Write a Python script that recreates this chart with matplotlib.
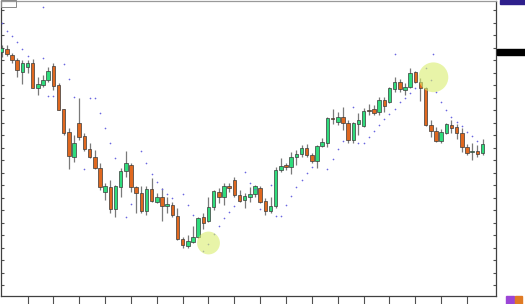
import matplotlib.pyplot as plt
import matplotlib.ticker as ticker
from matplotlib.patches import Rectangle
import numpy as np

# Candle data (one value per bar, price units)
opens = [248, 251, 245, 240, 228, 233, 237, 212, 215, 220,
         234, 215, 191, 168, 143, 177, 164, 151, 143, 132,
         108, 113, 91, 113, 129, 135, 113, 107, 89, 111,
         98, 103, 94, 95, 84, 61, 54, 58, 63, 83,
         79, 93, 108, 103, 114, 120, 105, 100, 103, 106,
         112, 99, 89, 94, 130, 135, 133, 143, 146, 152,
         145, 139, 154, 157, 182, 178, 183, 177, 160, 176,
         174, 190, 191, 188, 200, 198, 211, 218, 210, 213,
         228, 218, 212, 175, 169, 159, 167, 175, 173, 167,
         153, 148, 149, 147]
highs = [255, 255, 247, 242, 240, 240, 241, 223, 225, 233,
         237, 217, 191, 172, 165, 202, 167, 157, 150, 137,
         117, 120, 115, 132, 149, 137, 114, 114, 114, 122,
         107, 112, 103, 98, 92, 63, 65, 74, 83, 87,
         103, 110, 112, 117, 117, 123, 110, 107, 113, 115,
         114, 102, 103, 133, 142, 137, 148, 150, 155, 156,
         147, 155, 162, 183, 191, 188, 193, 180, 178, 187,
         192, 196, 195, 203, 203, 213, 223, 221, 217, 232,
         229, 222, 213, 180, 173, 171, 177, 180, 176, 172,
         156, 157, 155, 161]
lows = [243, 244, 237, 223, 216, 227, 212, 205, 213, 218,
        210, 190, 165, 131, 138, 160, 149, 142, 131, 110,
        100, 87, 83, 103, 123, 108, 87, 87, 85, 98,
        97, 79, 87, 83, 60, 52, 52, 57, 62, 71,
        78, 90, 97, 95, 108, 103, 98, 92, 98, 103,
        97, 85, 87, 92, 128, 130, 126, 135, 143, 143,
        137, 132, 153, 153, 176, 175, 170, 157, 157, 165,
        173, 185, 185, 185, 188, 197, 208, 208, 205, 212,
        217, 199, 174, 163, 158, 157, 166, 167, 161, 148,
        145, 140, 143, 145]
closes = [252, 246, 240, 230, 237, 237, 212, 216, 220, 229,
          214, 190, 167, 144, 157, 163, 151, 143, 132, 113,
          114, 91, 114, 129, 137, 113, 107, 89, 111, 99,
          103, 94, 96, 85, 61, 55, 59, 63, 82, 77,
          93, 109, 103, 114, 112, 105, 99, 104, 106, 114,
          98, 89, 94, 130, 134, 133, 143, 146, 152, 145,
          139, 154, 158, 182, 181, 183, 177, 160, 177, 180,
          189, 189, 187, 200, 194, 212, 218, 211, 213, 227,
          218, 212, 175, 169, 159, 168, 176, 172, 167, 153,
          147, 149, 146, 156]

# Parabolic SAR dots (bar index, price)
sar_idx = [0, 1, 2, 3, 4, 5, 8, 8, 9, 10, 12, 13, 14, 16, 17, 18, 19, 20, 21, 22,
           24, 25, 27, 28, 29, 30, 31, 32, 33, 35, 36, 37, 39, 40, 41, 42, 43, 44, 45,
           47, 48, 49, 50, 52, 53, 54, 55, 56, 57, 58, 59, 60, 63, 64, 65, 66, 68,
           69, 70, 71, 72, 73, 74, 75, 76, 76, 77, 78, 79, 80, 82, 83, 83.5, 84, 85,
           86, 87, 88, 89, 90, 91, 92]
sar_val = [276.7, 269.5, 264, 258, 251, 244, 242, 293.3, 204.3, 204.3, 235.7, 221, 203.3,
           130.7, 201.7, 201.7, 187.5, 172.5, 157, 142.3,
           83.3, 96, 149.3, 136.7, 126, 118.3, 111, 105.7, 102, 106, 95, 85.3,
           49.3, 56, 66, 74, 81.7, 88.3, 94,
           128, 117.5, 111, 91.5, 115, 84.5, 84, 95.5, 104.3, 113, 120, 126.7, 133.3,
           130.7, 141, 151, 159, 193,
           156.7, 156.7, 163, 169.3, 175, 180.7, 185.7, 191.3, 245.7, 197.7, 202.5,
           207.5, 211.7, 231.7, 220, 246, 208.3, 198.3,
           190, 183.3, 178.3, 174, 168.3, 164, 159.3]

# Highlight circles (bar index, price)
highlight_idx = [40, 83.5]
highlight_val = [57, 222.7]

W, H = 525, 304


def draw_candles(ax):
    idx = np.arange(len(opens))
    o = np.array(opens, dtype=float)
    c = np.array(closes, dtype=float)
    up = c >= o
    colors = np.where(up, '#2fdc7c', '#e0681f')
    ax.vlines(idx, lows, highs, color='#7a7a7a', linewidth=0.9, zorder=2)
    bottoms = np.minimum(o, c)
    heights = np.maximum(np.abs(c - o), 0.9)
    ax.bar(idx, heights, bottom=bottoms, width=0.68, color=colors,
           edgecolor='#3a3a3a', linewidth=0.5, zorder=3)


def plot_chart():
    fig = plt.figure(figsize=(W / 100, H / 100), dpi=100)
    ax = fig.add_axes([0.5 / W, 1 - 295.5 / H, 495.5 / W, 295 / H])

    draw_candles(ax)

    # SAR dots (tiny)
    ax.plot(sar_idx, sar_val, linestyle='none', marker='o', markersize=1.2,
            markerfacecolor='#6a66e0', markeredgewidth=0, zorder=4)

    # Translucent highlight circles on top
    ax.scatter(highlight_idx, highlight_val, s=[270, 460],
               color='#d9ee6e', alpha=0.6, linewidths=0, zorder=5)

    # Axes limits (bar i sits at pixel 1.7 + 5.17 i, price = 300 - y)
    ax.set_xlim((0.5 - 1.7) / 5.17, (496 - 1.7) / 5.17)
    ax.set_ylim(4.5, 299.5)

    # Ticks, no labels (MT4 style)
    ax.xaxis.set_major_locator(ticker.FixedLocator(np.arange(5, 95, 5)))
    ax.yaxis.set_major_locator(ticker.FixedLocator(np.arange(290, 0, -12.5)))
    ax.tick_params(axis='x', direction='out', length=6, width=0.8, color='#505050',
                   labelbottom=False)
    ax.tick_params(axis='y', direction='in', length=2.5, width=0.8, color='#505050',
                   left=True, right=True, labelleft=False)
    for s in ax.spines.values():
        s.set_color('#404040')
        s.set_linewidth(0.9)
    ax.spines['top'].set_color('#9a9a9a')

    # Right price-panel bits
    fig.patches.append(Rectangle((497 / W, 1 - 54.5 / H), 28 / W, 6 / H,
                                 transform=fig.transFigure, color='black'))
    fig.patches.append(Rectangle((500 / W, 1 - 4 / H), 25 / W, 4 / H,
                                 transform=fig.transFigure, color='#2e1f8c'))
    fig.patches.append(Rectangle((506 / W, 0), 7.5 / W, 8 / H,
                                 transform=fig.transFigure, color='#9b45d6'))
    fig.patches.append(Rectangle((514.5 / W, 0), 7.5 / W, 8 / H,
                                 transform=fig.transFigure, color='#e07a24'))
    # Small label box top-left
    fig.patches.append(Rectangle((0.5 / W, 1 - 6.5 / H), 15.5 / W, 6 / H,
                                 transform=fig.transFigure, fill=False,
                                 edgecolor='#8a8a8a', linewidth=0.7))

    fig.savefig('out.png', dpi=100)


if __name__ == '__main__':
    plot_chart()
